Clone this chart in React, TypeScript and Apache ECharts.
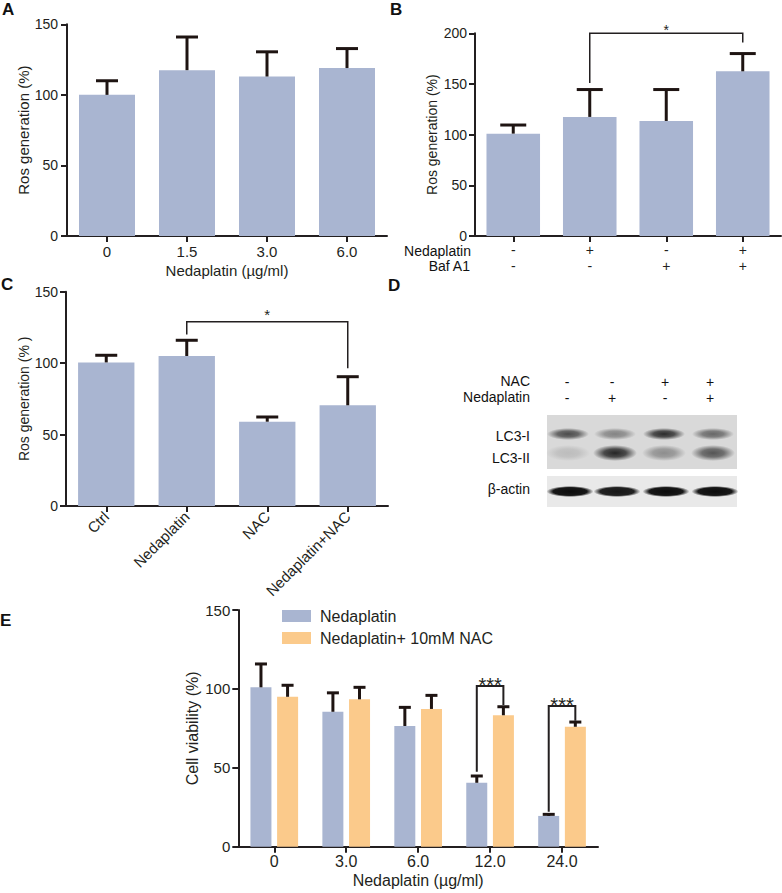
import React, { useEffect, useRef } from 'react';
import * as echarts from 'echarts';

const FONT = '"Liberation Sans", Arial, Helvetica, sans-serif';
const INK = '#231f20';
const ERR = '#1e1412';
const BLUE = '#a9b5d1';
const ORANGE = '#fbca8b';

// Panel A
const catsA = ['0', '1.5', '3.0', '6.0'];
const meanA = [100, 117.5, 113, 119];
const sdA = [10, 23.5, 17.5, 13.8];

// Panel B
const nedB = ['-', '+', '-', '+'];
const bafB = ['-', '-', '+', '+'];
const meanB = [101, 117.5, 113.5, 162.5];
const sdB = [8.5, 27, 31, 17.5];
const bracketsB = [[1, 3, 151, 200, 191]];
const starsB = ['*'];

// Panel C
const catsC = ['Ctrl', 'Nedaplatin', 'NAC', 'Nedaplatin+NAC'];
const meanC = [100.5, 105, 59, 70.5];
const sdC = [5, 11, 3.3, 20];
const bracketsC = [[1, 3, 120, 129, 96.5]];
const starsC = ['*'];

// Panel D (western blot, relative band intensities)
const nacD = ['-', '-', '+', '+'];
const nedD = ['-', '+', '-', '+'];
const lc3I = [0.75, 0.45, 0.92, 0.6];
const lc3II = [0.15, 0.95, 0.4, 0.7];
const actin = [1, 0.95, 1, 1];

// Panel E
const catsE = ['0', '3.0', '6.0', '12.0', '24.0'];
const meanE1 = [101, 85.5, 76.5, 40.5, 19.5];
const sdE1 = [14.8, 12, 11.8, 4.3, 1];
const meanE2 = [95, 93.4, 87.3, 83.3, 76];
const sdE2 = [7.3, 7.6, 8.6, 5.4, 3];
const bracketsE = [[3, 3, 47.5, 101.8, 89.8], [4, 4, 22.2, 89.2, 79.8]];
const starsE = ['***', '***'];

const E_BAR_W = 21;
const E_OFF = 13.3;

function errRender(capW: number, lw: number, offset: number) {
  return (params: any, api: any) => {
    const x = api.value(0);
    const p0 = api.coord([x, api.value(1)]);
    const p1 = api.coord([x, api.value(2)]);
    const cx = p0[0] + offset;
    return {
      type: 'group',
      children: [
        { type: 'line', shape: { x1: cx, y1: p0[1], x2: cx, y2: p1[1] }, style: { stroke: ERR, lineWidth: lw } },
        { type: 'line', shape: { x1: cx - capW / 2, y1: p1[1], x2: cx + capW / 2, y2: p1[1] }, style: { stroke: ERR, lineWidth: lw } },
      ],
    };
  };
}

function bracketRender(offA: number, offB: number, lw: number, starSize: number, starGap: number, labels: string[]) {
  return (params: any, api: any) => {
    const xa = api.value(0);
    const xb = api.value(1);
    const pl = api.coord([xa, api.value(2)]);
    const pt = api.coord([xa, api.value(3)]);
    const pr = api.coord([xb, api.value(4)]);
    const xA = pl[0] + offA;
    const xB = pr[0] + offB;
    const yT = pt[1];
    return {
      type: 'group',
      children: [
        {
          type: 'polyline',
          shape: { points: [[xA, pl[1]], [xA, yT], [xB, yT], [xB, pr[1]]] },
          style: { stroke: INK, lineWidth: lw, fill: 'none' },
        },
        {
          type: 'text',
          x: (xA + xB) / 2,
          y: yT - starGap,
          style: {
            text: labels[params.dataIndex],
            fill: INK,
            fontSize: starSize,
            fontFamily: FONT,
            align: 'center',
            verticalAlign: 'middle',
            textAlign: 'center',
            textVerticalAlign: 'middle',
          },
        },
      ],
    };
  };
}

function yAxis(gridIndex: number, max: number, name: string, nameGap: number, margin: number, fs: number, nfs: number) {
  return {
    type: 'value',
    gridIndex,
    min: 0,
    max,
    interval: 50,
    name,
    nameLocation: 'middle',
    nameGap,
    nameTextStyle: { fontSize: nfs, color: INK, fontFamily: FONT },
    axisLine: { show: true, lineStyle: { color: INK, width: 2 } },
    axisTick: { show: true, length: 6, lineStyle: { color: INK, width: 2 } },
    axisLabel: { margin, fontSize: fs, color: INK, fontFamily: FONT },
    splitLine: { show: false },
  };
}

function xAxis(gridIndex: number, data: string[], extra: any, labelExtra: any) {
  return {
    type: 'category',
    gridIndex,
    data,
    axisLine: { show: true, onZero: false, lineStyle: { color: INK, width: 2 } },
    axisTick: { show: true, alignWithLabel: true, length: 6, lineStyle: { color: INK, width: 2 } },
    axisLabel: { interval: 0, color: INK, fontFamily: FONT, ...labelExtra },
    splitLine: { show: false },
    ...extra,
  };
}

function txt(text: string, x: number, y: number, size: number, align: string, bold = false) {
  return {
    type: 'text',
    x,
    y,
    style: {
      text,
      fill: '#111',
      fontSize: size,
      fontFamily: FONT,
      fontWeight: bold ? 'bold' : 'normal',
      align,
      verticalAlign: 'middle',
      textAlign: align,
      textVerticalAlign: 'middle',
    },
  };
}

function band(cx: number, cy: number, rx: number, ry: number, a: number, hard = false) {
  const c = hard ? '12,12,12' : '28,28,28';
  return {
    type: 'ellipse',
    shape: { cx, cy, rx, ry },
    style: {
      fill: {
        type: 'radial',
        x: 0.5,
        y: 0.5,
        r: 0.5,
        colorStops: hard
          ? [
              { offset: 0, color: `rgba(${c},${a})` },
              { offset: 0.72, color: `rgba(${c},${a * 0.95})` },
              { offset: 1, color: `rgba(${c},0)` },
            ]
          : [
              { offset: 0, color: `rgba(${c},${a})` },
              { offset: 0.5, color: `rgba(${c},${a * 0.8})` },
              { offset: 1, color: `rgba(${c},0)` },
            ],
      },
    },
  };
}

const laneX = [568, 615, 664, 713];
const signX = [567, 612, 665, 710];

function buildGraphic() {
  const els: any[] = [];
  els.push(txt('A', 2, 9.5, 17, 'left', true));
  els.push(txt('B', 390, 9.5, 17, 'left', true));
  els.push(txt('C', 1, 284.5, 17, 'left', true));
  els.push(txt('D', 388, 285, 17, 'left', true));
  els.push(txt('E', 0, 620.5, 17, 'left', true));
  // B row labels
  els.push(txt('Nedaplatin', 471, 250.5, 14, 'right'));
  els.push(txt('Baf A1', 470, 266, 14, 'right'));
  // D labels
  els.push(txt('NAC', 530, 380.5, 14, 'right'));
  els.push(txt('Nedaplatin', 530, 397, 14, 'right'));
  els.push(txt('LC3-I', 530, 436, 14, 'right'));
  els.push(txt('LC3-II', 530, 458, 14, 'right'));
  els.push(txt('β-actin', 530, 489, 14, 'right'));
  signX.forEach((x, i) => {
    els.push(txt(nacD[i], x, 381.5, 14, 'center'));
    els.push(txt(nedD[i], x, 398, 14, 'center'));
  });
  els.push({ type: 'rect', shape: { x: 547, y: 415, width: 190, height: 54 }, style: { fill: '#d9d9d9' } });
  els.push({ type: 'rect', shape: { x: 547, y: 476, width: 190, height: 31 }, style: { fill: '#e9e9e9' } });
  laneX.forEach((x, i) => {
    els.push(band(x, 434, 21, 6, lc3I[i]));
    els.push(band(x, 453, 22, 8, lc3II[i]));
    els.push(band(x + 2, 491.5, 23.5, 5.5, actin[i], true));
  });
  return els;
}

export default function App() {
  const ref = useRef<HTMLDivElement>(null);
  useEffect(() => {
    if (!ref.current) return;
    const chart = echarts.init(ref.current, null, { renderer: 'svg' });
    const option: any = {
      animation: false,
      backgroundColor: '#ffffff',
      grid: [
        { left: 67, top: 24.3, width: 320, height: 211.7, outerBoundsMode: 'none' },
        { left: 475, top: 33.3, width: 306, height: 202.7, outerBoundsMode: 'none' },
        { left: 66, top: 291.7, width: 322, height: 214.3, outerBoundsMode: 'none' },
        { left: 238.3, top: 610, width: 359.7, height: 236.7, outerBoundsMode: 'none' },
      ],
      legend: {
        data: ['Nedaplatin', 'Nedaplatin+ 10mM NAC'],
        orient: 'vertical',
        left: 277,
        top: 603,
        itemWidth: 29,
        itemHeight: 12,
        itemGap: 6,
        icon: 'rect',
        selectedMode: false,
        textStyle: { fontSize: 16, color: INK, fontFamily: FONT, padding: [0, 0, 0, 4] },
      },
      xAxis: [
        xAxis(0, catsA, { name: 'Nedaplatin (µg/ml)', nameLocation: 'middle', nameGap: 27, nameTextStyle: { fontSize: 15, color: INK, fontFamily: FONT } }, { fontSize: 15, margin: 8 }),
        xAxis(1, ['1', '2', '3', '4'], {}, {
          fontSize: 14,
          margin: 6,
          lineHeight: 16,
          formatter: (_v: string, i: number) => `${nedB[i]}\n${bafB[i]}`,
        }),
        xAxis(2, catsC, {}, { fontSize: 15, margin: 8, rotate: 45 }),
        xAxis(3, catsE, { name: 'Nedaplatin (µg/ml)', nameLocation: 'middle', nameGap: 26, nameTextStyle: { fontSize: 16, color: INK, fontFamily: FONT } }, { fontSize: 16, margin: 7 }),
      ],
      yAxis: [
        yAxis(0, 150, 'Ros generation (%)', 31.5, 9, 14, 15),
        yAxis(1, 200, 'Ros generation (%)', 36, 8, 14, 14),
        yAxis(2, 150, 'Ros generation (% )', 32, 8, 14, 14),
        yAxis(3, 150, 'Cell viability (%)', 38, 8, 15, 16),
      ],
      graphic: { elements: buildGraphic() },
      series: [
        // A
        { name: 'rosA', type: 'bar', xAxisIndex: 0, yAxisIndex: 0, data: meanA, barCategoryGap: '30%', itemStyle: { color: BLUE } },
        {
          name: 'errA', type: 'custom', xAxisIndex: 0, yAxisIndex: 0, z: 3,
          renderItem: errRender(22, 3, 0),
          encode: { x: 0, y: [1, 2] },
          data: meanA.map((m, i) => [i, m, m + sdA[i]]),
        },
        // B
        { name: 'rosB', type: 'bar', xAxisIndex: 1, yAxisIndex: 1, data: meanB, barCategoryGap: '30%', itemStyle: { color: BLUE } },
        {
          name: 'errB', type: 'custom', xAxisIndex: 1, yAxisIndex: 1, z: 3,
          renderItem: errRender(26, 3, 0),
          encode: { x: 0, y: [1, 2] },
          data: meanB.map((m, i) => [i, m, m + sdB[i]]),
        },
        {
          name: 'sigB', type: 'custom', xAxisIndex: 1, yAxisIndex: 1, z: 4, clip: false,
          renderItem: bracketRender(0, 0, 1.5, 14, 3, starsB),
          encode: { x: [0, 1], y: [2, 3, 4] },
          data: bracketsB,
        },
        // C
        { name: 'rosC', type: 'bar', xAxisIndex: 2, yAxisIndex: 2, data: meanC, barCategoryGap: '30%', itemStyle: { color: BLUE } },
        {
          name: 'errC', type: 'custom', xAxisIndex: 2, yAxisIndex: 2, z: 3,
          renderItem: errRender(22, 3, 0),
          encode: { x: 0, y: [1, 2] },
          data: meanC.map((m, i) => [i, m, m + sdC[i]]),
        },
        {
          name: 'sigC', type: 'custom', xAxisIndex: 2, yAxisIndex: 2, z: 4, clip: false,
          renderItem: bracketRender(0, 0, 1.5, 15, 7, starsC),
          encode: { x: [0, 1], y: [2, 3, 4] },
          data: bracketsC,
        },
        // E
        { name: 'Nedaplatin', type: 'bar', xAxisIndex: 3, yAxisIndex: 3, data: meanE1, barWidth: E_BAR_W, barGap: '27%', itemStyle: { color: BLUE } },
        { name: 'Nedaplatin+ 10mM NAC', type: 'bar', xAxisIndex: 3, yAxisIndex: 3, data: meanE2, barWidth: E_BAR_W, barGap: '27%', itemStyle: { color: ORANGE } },
        {
          name: 'errE1', type: 'custom', xAxisIndex: 3, yAxisIndex: 3, z: 3,
          renderItem: errRender(12, 3, -E_OFF),
          encode: { x: 0, y: [1, 2] },
          data: meanE1.map((m, i) => [i, m, m + sdE1[i]]),
        },
        {
          name: 'errE2', type: 'custom', xAxisIndex: 3, yAxisIndex: 3, z: 3,
          renderItem: errRender(12, 3, E_OFF),
          encode: { x: 0, y: [1, 2] },
          data: meanE2.map((m, i) => [i, m, m + sdE2[i]]),
        },
        {
          name: 'sigE', type: 'custom', xAxisIndex: 3, yAxisIndex: 3, z: 4, clip: false,
          renderItem: bracketRender(-E_OFF, E_OFF, 2, 20, 1, starsE),
          encode: { x: [0, 1], y: [2, 3, 4] },
          data: bracketsE,
        },
      ],
    };
    chart.setOption(option);
    return () => chart.dispose();
  }, []);
  return (
    <div
      ref={ref}
      style={{ position: 'absolute', left: 0, top: 0, width: 782, height: 893, background: '#fff' }}
    />
  );
}
